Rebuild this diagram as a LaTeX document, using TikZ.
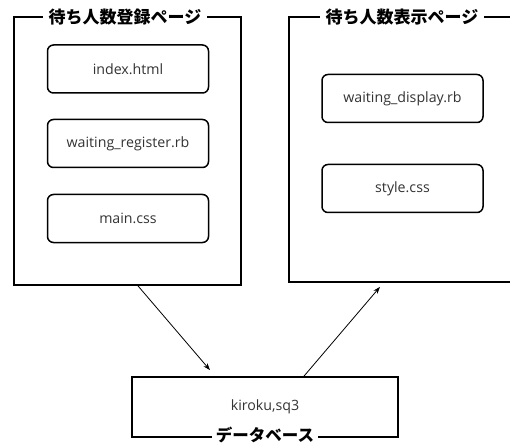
\documentclass[tikz,border=0pt]{standalone}
\usepackage{fontspec}
\setmainfont{Noto Sans CJK JP}
\newfontfamily\titlefont{Noto Sans CJK JP}
\newfontfamily\filefont{Open Sans}
\usetikzlibrary{arrows.meta,calc}
\definecolor{filetext}{HTML}{333333}
\begin{document}
\begin{tikzpicture}[x=1pt,y=-1pt,
  filename/.style={font=\filefont\fontsize{14.2}{16}\selectfont,text=filetext},
  frame/.style={draw,line width=1.8pt,inner sep=0pt},
  filebox/.style={draw,line width=1.5pt,rounded corners=6pt,minimum width=161pt,minimum height=48pt,inner sep=0pt,filename},
  frametitle/.style={fill=white,inner xsep=6pt,inner ysep=0pt,font=\titlefont\bfseries\fontsize{17}{19}\selectfont},
  flow/.style={line width=0.8pt,-{Stealth[length=7pt,width=5pt]}}]
\useasboundingbox (0,0) rectangle (510,443);

% registration page frame
\node[frame,minimum width=227pt,minimum height=268pt] (reg) at (127.5,151) {};
\node[frametitle] (regtitle) at (125,17) {待ち人数登録ページ};
\node[filebox] (index) at (128,69) {index.html};
\node[filebox] (register) at (128,143.5) {waiting\_register.rb};
\node[filebox] (maincss) at (128,218.5) {main.css};

% display page frame
\node[frame,minimum width=241pt,minimum height=265pt] (disp) at (409.5,149.5) {};
\node[frametitle] (disptitle) at (402,17) {待ち人数表示ページ};
\node[filebox] (display) at (402.5,98.5) {waiting\_display.rb};
\node[filebox] (style) at (402.5,188.5) {style.css};

% database
\node[frame,minimum width=266pt,minimum height=60pt,filename] (db) at (265,407) {kiroku,sq3};
\node[frametitle,inner xsep=4pt,font=\titlefont\bfseries\fontsize{16.5}{18}\selectfont] (dbtitle) at (265,435) {データベース};

% data flow
\draw[flow] ([xshift=10.5pt]reg.south) -- ([xshift=-55pt,yshift=6pt]db.north);
\draw[flow] ([xshift=39pt]db.north) -- ([xshift=-29.5pt,yshift=-4pt]disp.south);
\end{tikzpicture}
\end{document}
